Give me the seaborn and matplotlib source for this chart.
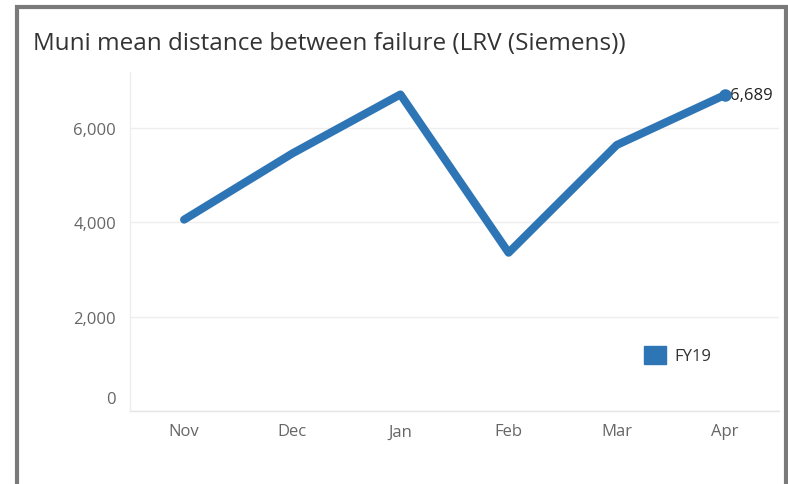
import matplotlib
matplotlib.use("Agg")
import matplotlib.pyplot as plt
import matplotlib.transforms as mtransforms
from matplotlib.patches import Patch, Rectangle
import pandas as pd
import seaborn as sns

# Chart data
months = ["Nov", "Dec", "Jan", "Feb", "Mar", "Apr"]
mdbf_fy19 = [4050, 5450, 6700, 3350, 5630, 6689]
series_name = "FY19"
y_ticks = [0, 2000, 4000, 6000]
y_tick_labels = ["0", "2,000", "4,000", "6,000"]
title = "Muni mean distance between failure (LRV (Siemens))"

line_color = "#2E75B6"
grey_text = "#666666"

df = pd.DataFrame({"month": months, "mdbf": mdbf_fy19, "series": series_name})

# Graph theme
sns.set_theme(style="white")
plt.rcParams["font.family"] = ["Open Sans", "DejaVu Sans"]

W, H = 788, 485
fig = plt.figure(figsize=(W / 100, H / 100), dpi=100)

# plot area in pixels: x 130..779, y 73..412
ax = fig.add_axes([130 / W, (H - 412) / H, (779 - 130) / W, (412 - 73) / H])

sns.lineplot(data=df, x="month", y="mdbf", ax=ax, color=line_color,
             linewidth=5.8, solid_capstyle="round", solid_joinstyle="round",
             sort=False, legend=False)

# marker + label on the last point
last = len(months) - 1
ax.plot([last], [mdbf_fy19[-1]], "o", color=line_color, markersize=8, zorder=5)
ax.annotate("{:,}".format(mdbf_fy19[-1]), xy=(last, mdbf_fy19[-1]),
            xytext=(4, 0), textcoords="offset points", va="center", ha="left",
            fontsize=12, color="#222222")

# axes limits / ticks
ax.set_xlim(-0.5, len(months) - 0.5)
ax.set_ylim(0, 7175)
ax.set_yticks(y_ticks)
ax.set_yticklabels(y_tick_labels)
ax.set_xticks(range(len(months)))
ax.set_xticklabels(months)
ax.set_xticks([i - 0.5 for i in range(len(months) + 1)], minor=True)
ax.tick_params(axis="x", which="major", length=0, pad=9, labelsize=12, labelcolor=grey_text)
ax.tick_params(axis="x", which="minor", length=6, width=1, color="#e6e6e6", direction="out")
ax.tick_params(axis="y", which="major", length=6, width=1, color="#eeeeee", pad=4,
               labelsize=12, labelcolor=grey_text)
ax.set_xlabel("")
ax.set_ylabel("")

# nudge the zero label up like the original
zero_lbl = ax.get_yticklabels()[0]
zero_lbl.set_transform(zero_lbl.get_transform() + mtransforms.ScaledTranslation(0, 14 / 100, fig.dpi_scale_trans))

ax.grid(axis="y", color="#eeeeee", linewidth=1)
ax.set_axisbelow(True)
for side in ["top", "right"]:
    ax.spines[side].set_visible(False)
ax.spines["left"].set_color("#eeeeee")
ax.spines["bottom"].set_color("#e6e6e6")
ax.spines["left"].set_linewidth(1)
ax.spines["bottom"].set_linewidth(1)

# legend
handles = [Patch(facecolor=line_color, edgecolor=line_color, label=series_name)]
fig.legend(handles=handles, loc="center left", bbox_to_anchor=(629 / W, (H - 356) / H),
           frameon=False, fontsize=12, handlelength=1.3, handleheight=1.3,
           handletextpad=0.5, labelcolor="#333333")

# title
fig.text(33 / W, (H - 44) / H, title, fontsize=17.5, color="#333333", va="center", ha="left")

# grey frame around the visual
fig.patches.append(Rectangle((17 / W, -0.05), (786 - 17) / W, (H - 8) / H + 0.05,
                             transform=fig.transFigure, fill=False,
                             edgecolor="#7a7a7a", linewidth=3))

fig.savefig("out.png", dpi=100)
